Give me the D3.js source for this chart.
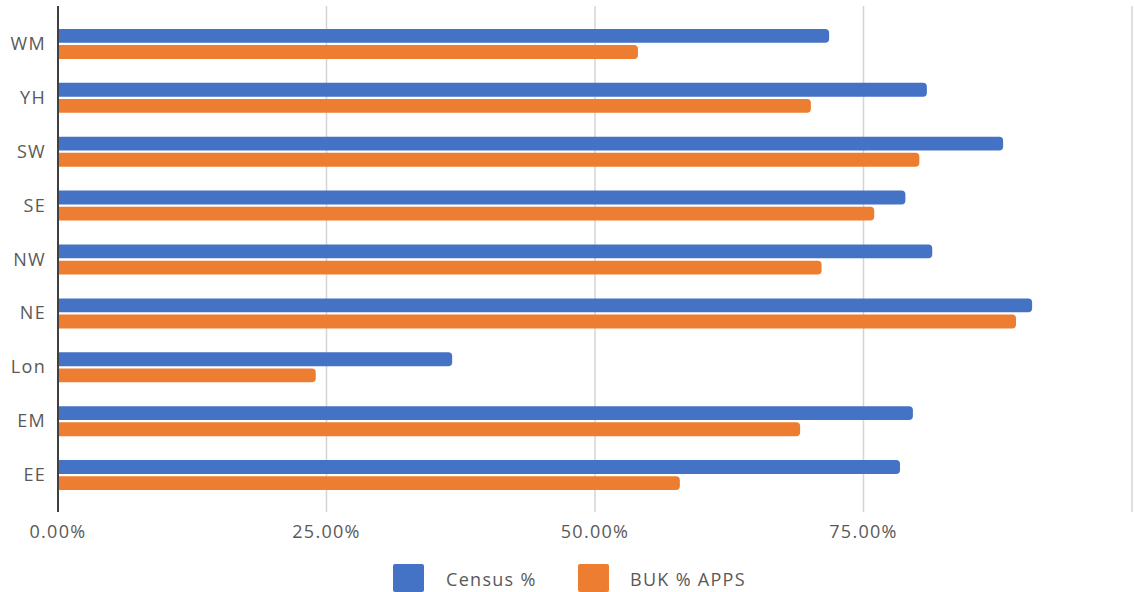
<!DOCTYPE html>
<html>
<head>
<meta charset="utf-8">
<script src="https://cdn.jsdelivr.net/npm/d3@7"></script>
<style>
  body { margin: 0; background: #fff; }
  text { font-family: "Open Sans", sans-serif; fill: #595959; letter-spacing: 1.3px; }
</style>
</head>
<body>
<div id="chart"></div>
<script>
(function () {
    var width = 1134,
        height = 592;

    // data, top to bottom
    var regions = ["WM", "YH", "SW", "SE", "NW", "NE", "Lon", "EM", "EE"];
    var seriesNames = ["Census %", "BUK % APPS"];
    var census = [71.8, 80.9, 88.0, 78.9, 81.4, 90.7, 36.7, 79.6, 78.4];
    var bukApps = [54.0, 70.1, 80.2, 76.0, 71.1, 89.2, 24.0, 69.1, 57.9];
    var tickValues = [0, 25, 50, 75, 100];
    var colors = ["#4472C4", "#ED7D31"];

    var rows = regions.map(function (r, i) {
        return { region: r, values: [census[i], bukApps[i]] };
    });

    var svg = d3.select("#chart")
        .append("svg")
        .attr("width", width)
        .attr("height", height);

    var x = d3.scaleLinear().domain([0, 100]).range([58, 1132]);
    var y = d3.scaleBand().domain(regions).range([17, 502]);
    var inner = d3.scaleBand()
        .domain(d3.range(seriesNames.length))
        .range([y.bandwidth() / 2 - 15, y.bandwidth() / 2 + 15])
        .paddingInner(0.14);

    // clip so bars are square at the axis, rounded at the end
    svg.append("clipPath")
        .attr("id", "plot-clip")
        .append("rect")
        .attr("x", x(0))
        .attr("y", 0)
        .attr("width", width - x(0))
        .attr("height", height);

    // vertical gridlines
    svg.append("g")
        .selectAll("line")
        .data(tickValues.slice(1))
        .enter().append("line")
        .attr("x1", function (d) { return x(d); })
        .attr("x2", function (d) { return x(d); })
        .attr("y1", 6)
        .attr("y2", 512)
        .attr("stroke", "#d4d4d4")
        .attr("stroke-width", 1.5);

    // bars
    var groups = svg.append("g")
        .attr("clip-path", "url(#plot-clip)")
        .selectAll(".region")
        .data(rows)
        .enter().append("g")
        .attr("class", "region")
        .attr("transform", function (d) { return "translate(0," + y(d.region) + ")"; });

    groups.selectAll("rect")
        .data(function (d) { return d.values; })
        .enter().append("rect")
        .attr("x", x(0) - 6)
        .attr("y", function (d, i) { return inner(i); })
        .attr("width", function (d) { return x(d) - x(0) + 6; })
        .attr("height", inner.bandwidth())
        .attr("rx", 4)
        .attr("fill", function (d, i) { return colors[i]; });

    // y axis line
    svg.append("line")
        .attr("x1", x(0)).attr("x2", x(0))
        .attr("y1", 6).attr("y2", 512)
        .attr("stroke", "#404040")
        .attr("stroke-width", 2);

    // category labels
    svg.selectAll(".cat-label")
        .data(regions)
        .enter().append("text")
        .attr("class", "cat-label")
        .attr("x", 46)
        .attr("y", function (d) { return y(d) + y.bandwidth() / 2 + 6; })
        .attr("text-anchor", "end")
        .attr("font-size", 18)
        .text(function (d) { return d; });

    // x tick labels
    svg.selectAll(".tick-label")
        .data(tickValues.slice(0, 4))
        .enter().append("text")
        .attr("class", "tick-label")
        .attr("x", function (d) { return x(d); })
        .attr("y", 538)
        .attr("text-anchor", "middle")
        .attr("font-size", 18)
        .text(function (d) { return d3.format(".2f")(d) + "%"; });

    // legend
    var legendX = [393, 578];
    var legend = svg.selectAll(".legend")
        .data(seriesNames)
        .enter().append("g")
        .attr("class", "legend")
        .attr("transform", function (d, i) { return "translate(" + legendX[i] + ",564)"; });

    legend.append("rect")
        .attr("width", 31)
        .attr("height", 28)
        .attr("rx", 2)
        .attr("fill", function (d, i) { return colors[i]; });

    legend.append("text")
        .attr("x", function (d, i) { return i === 0 ? 53 : 52; })
        .attr("y", 22)
        .attr("font-size", 18)
        .text(function (d) { return d; });
})();
</script>
</body>
</html>
